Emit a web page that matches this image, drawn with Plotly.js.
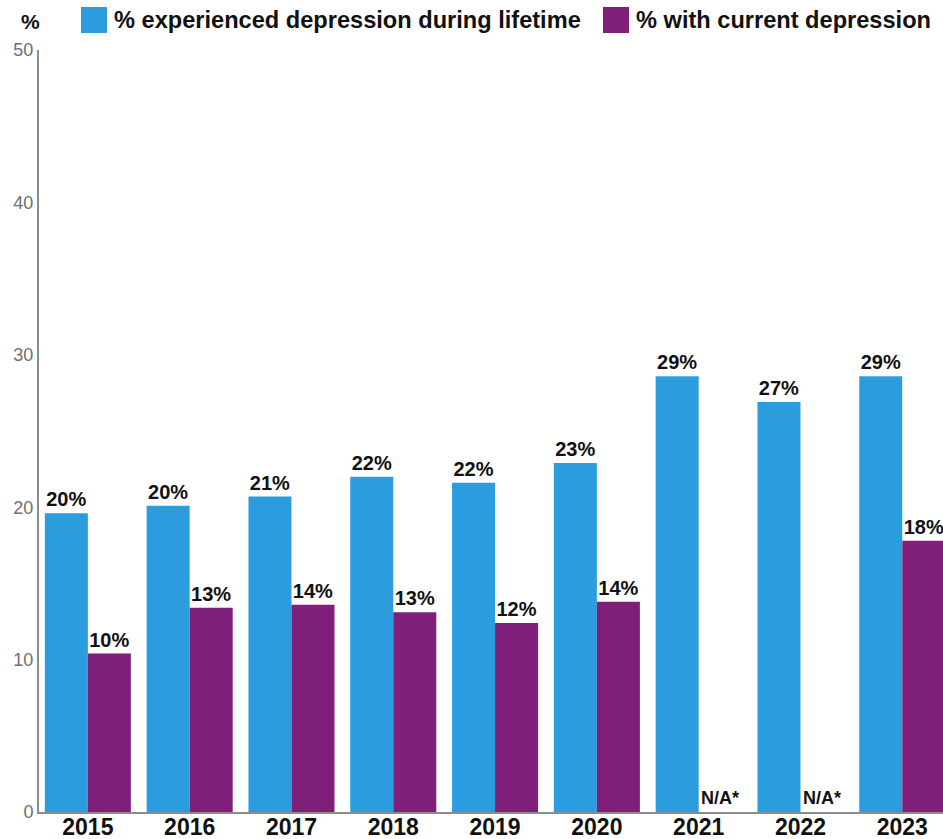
<!DOCTYPE html>
<html>
<head>
<meta charset="utf-8">
<script src="https://cdn.plot.ly/plotly-3.0.1.min.js"></script>
<style>
  html, body { margin: 0; padding: 0; background: #ffffff; }
  #chart { width: 943px; height: 839px; }
</style>
</head>
<body>
<div id="chart"></div>
<script>
// Survey years
const years = ['2015', '2016', '2017', '2018', '2019', '2020', '2021', '2022', '2023'];
// Share of respondents who have experienced depression at some point (%)
const lifetime = [19.6, 20.1, 20.7, 22.0, 21.6, 22.9, 28.6, 26.9, 28.6];
// Share currently depressed (%); not collected in 2021 and 2022
const current = [10.4, 13.4, 13.6, 13.1, 12.4, 13.8, null, null, 17.8];
// Series names
const seriesNames = ['% experienced depression during lifetime', '% with current depression'];
const colors = ['#2b9ddf', '#7f1f79'];

const FONT = 'Liberation Sans, Arial, Helvetica, sans-serif';

const fmt = v => (v === null ? '' : Math.round(v) + '%');

const labelFont = { family: FONT, size: 20, color: '#111', weight: 'bold' };

const traces = [
  {
    type: 'bar', name: seriesNames[0], x: years, y: lifetime,
    marker: { color: colors[0] },
    text: lifetime.map(fmt), textposition: 'outside', cliponaxis: false,
    constraintext: 'none', textfont: labelFont,
    hoverinfo: 'x+y', showlegend: false
  },
  {
    type: 'bar', name: seriesNames[1], x: years, y: current,
    marker: { color: colors[1] },
    text: current.map(fmt), textposition: 'outside', cliponaxis: false,
    constraintext: 'none', textfont: labelFont,
    hoverinfo: 'x+y', showlegend: false
  }
];

// "N/A*" markers where the current-depression value is missing
const naNotes = current
  .map((v, i) => ({ i, v }))
  .filter(d => d.v === null)
  .map(d => ({
    x: d.i, y: 0, xref: 'x', yref: 'y',
    text: 'N/A*', showarrow: false,
    xanchor: 'center', yanchor: 'bottom', xshift: 21.5, yshift: 2,
    font: { family: FONT, size: 18, color: '#111', weight: 'bold' }
  }));

const W = 943, H = 839;
const ml = 39, mr = 0, mt = 50, mb = 27;
const pw = W - ml - mr, ph = H - mt - mb;
const px = v => (v - ml) / pw;
const py = v => (H - mb - v) / ph;

// Custom legend row along the top
const legendItems = [
  { sx: 81, tx: 112 },
  { sx: 603, tx: 634 }
];
const shapes = legendItems.map((it, i) => ({
  type: 'rect', xref: 'paper', yref: 'paper',
  x0: px(it.sx), x1: px(it.sx + 26), y0: py(33), y1: py(7),
  fillcolor: colors[i], line: { width: 0 }
}));
const legendText = legendItems.map((it, i) => ({
  xref: 'paper', yref: 'paper', x: px(it.tx), y: py(20),
  xanchor: 'left', yanchor: 'middle', showarrow: false,
  text: seriesNames[i],
  font: { family: FONT, size: 23.6, color: '#111', weight: 'bold' }
}));

const unitLabel = {
  xref: 'paper', yref: 'paper', x: px(30), y: py(22),
  xanchor: 'center', yanchor: 'middle', showarrow: false,
  text: '%', font: { family: FONT, size: 21, color: '#111', weight: 'bold' }
};

const layout = {
  width: W, height: H,
  margin: { l: ml, r: mr, t: mt, b: mb, pad: 0 },
  paper_bgcolor: '#ffffff', plot_bgcolor: '#ffffff',
  barmode: 'group', bargap: 0.155, bargroupgap: 0,
  showlegend: false,
  xaxis: {
    type: 'category', range: [-0.48, 8.4],
    showgrid: false, zeroline: false,
    showline: true, linecolor: '#8c8c8c', linewidth: 2,
    ticks: '', ticklabelstandoff: -7,
    tickfont: { family: FONT, size: 23, color: '#111', weight: 'bold' },
    fixedrange: true
  },
  yaxis: {
    range: [0, 50], dtick: 10, tick0: 0,
    showgrid: false, zeroline: false,
    showline: true, linecolor: '#8c8c8c', linewidth: 2,
    ticks: '',
    tickfont: { family: FONT, size: 18, color: '#6f6f6f' },
    fixedrange: true
  },
  shapes: shapes,
  annotations: [unitLabel, ...legendText, ...naNotes]
};

Plotly.newPlot('chart', traces, layout, { displayModeBar: false, staticPlot: true });
</script>
</body>
</html>
